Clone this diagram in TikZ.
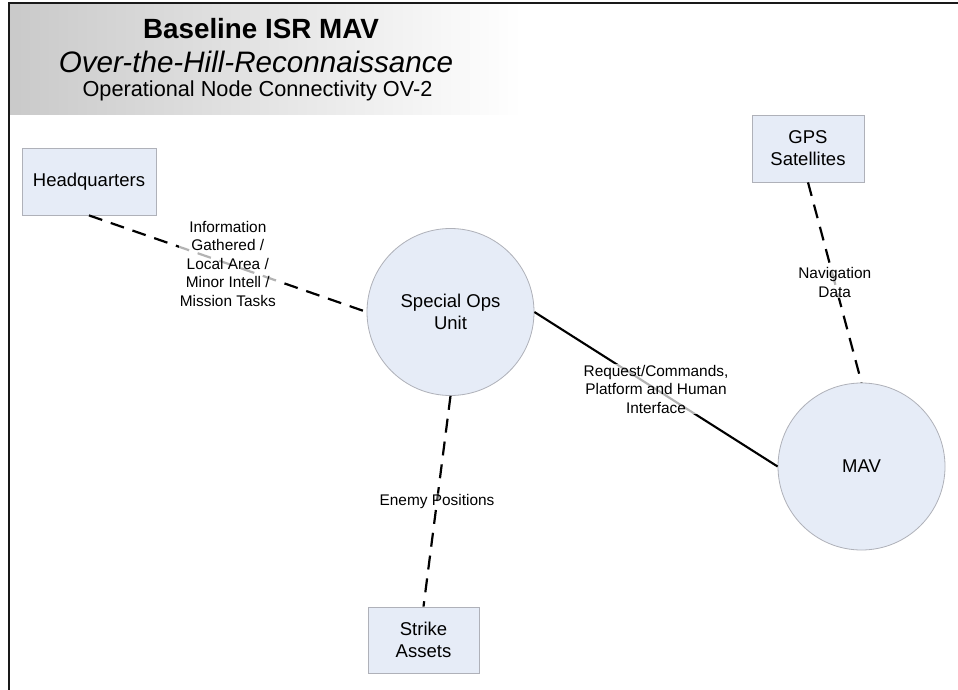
\documentclass[tikz,border=0pt]{standalone}
\usepackage{fontspec}
\setmainfont{Liberation Sans}
\definecolor{nodefill}{RGB}{230,236,247}
\definecolor{nodedraw}{RGB}{175,177,185}
\tikzset{
  boxnode/.style={draw=nodedraw, fill=nodefill, line width=0.8pt, rectangle, inner sep=0pt, align=center, font=\fontsize{18.5}{22}\selectfont},
  circnode/.style={draw=nodedraw, fill=nodefill, line width=0.8pt, circle, inner sep=0pt, minimum size=167pt, align=center, font=\fontsize{18.5}{22}\selectfont},
  dashlink/.style={line width=2.2pt, dash pattern=on 14pt off 9pt},
  solidlink/.style={line width=2.1pt},
  lbl/.style={fill=white, fill opacity=0.7, text opacity=1, inner sep=1pt, align=center, font=\fontsize{15.4}{18.5}\selectfont}
}
\begin{document}
\begin{tikzpicture}[x=1pt, y=-1pt]
\useasboundingbox (0,0) rectangle (958,690);
\fill[white] (0,0) rectangle (958,690);
% header
\shade[left color=black!21, right color=white] (10,3) rectangle (522,115);
\node[anchor=base, font=\fontsize{27.8}{33}\selectfont\bfseries] (t1) at (261,39) {Baseline ISR MAV};
\node[anchor=base, font=\fontsize{29.6}{35}\selectfont\itshape] (t2) at (256,72.5) {Over-the-Hill-Reconnaissance};
\node[anchor=base, font=\fontsize{21.7}{26}\selectfont] (t3) at (257.5,96.7) {Operational Node Connectivity OV-2};
% frame
\draw[line width=1.8pt, black!90] (8,3) -- (958,3);
\draw[line width=2.5pt, black!90] (8.8,2.2) -- (8.8,690);
% nodes
\node[boxnode, minimum width=134pt, minimum height=67pt] (hq) at (89,181.5) {Headquarters};
\node[boxnode, minimum width=112pt, minimum height=67pt] (gps) at (808,148.5) {GPS\\Satellites};
\node[boxnode, minimum width=111pt, minimum height=66pt] (strike) at (423.5,640) {Strike\\Assets};
\node[circnode] (sou) at (450.5,312) {Special Ops\\Unit};
\node[circnode] (mav) at (861.5,466.5) {MAV};
% links
\draw[dashlink] (hq.south) -- (sou.west) node[lbl, midway] (l1) {Information\\Gathered /\\Local Area /\\Minor Intell /\\Mission Tasks};
\draw[solidlink] (sou.east) -- (mav.west) node[lbl, midway] (l2) {Request/Commands,\\Platform and Human\\Interface};
\draw[dashlink] (gps.south) -- (mav.north) node[lbl, midway] (l3) {Navigation\\Data};
\draw[dashlink] (sou.south) -- (strike.north) node[lbl, midway, fill opacity=0.3] (l4) {Enemy Positions};
\end{tikzpicture}
\end{document}
